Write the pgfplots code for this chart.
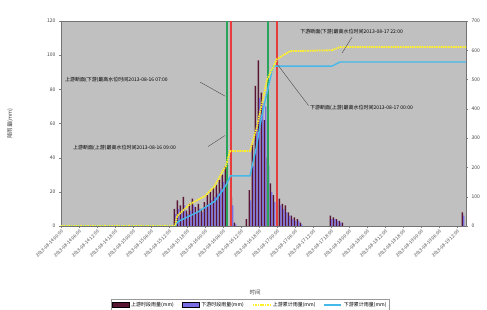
\documentclass[border=0pt]{standalone}
\usepackage{fontspec}
\setmainfont{Noto Sans CJK SC}
\usepackage{pgfplots}
\pgfplotsset{compat=1.18}
\definecolor{bgc}{RGB}{192,192,192}
\definecolor{barA}{RGB}{88,22,52}
\definecolor{barB}{RGB}{120,110,225}
\definecolor{lineY}{RGB}{255,240,40}
\definecolor{lineB}{RGB}{70,185,235}
\definecolor{vgreen}{RGB}{40,165,90}
\definecolor{vred}{RGB}{230,60,60}
\begin{document}
\begin{tikzpicture}[font=\fontsize{5}{6}\selectfont]
\useasboundingbox (-61pt,-84pt) rectangle (426pt,226pt);
\begin{axis}[
  at={(0,0)}, anchor=south west, scale only axis, width=405pt, height=205pt,
  xmin=0, xmax=135, ymin=0, ymax=120,
  ytick={0,20,...,120}, ytick pos=left,
  xtick={0,6,...,132}, xtick pos=bottom,
  xticklabels={2013-08-14 00:00,2013-08-14 06:00,2013-08-14 12:00,2013-08-14 18:00,
    2013-08-15 00:00,2013-08-15 06:00,2013-08-15 12:00,2013-08-15 18:00,
    2013-08-16 00:00,2013-08-16 06:00,2013-08-16 12:00,2013-08-16 18:00,
    2013-08-17 00:00,2013-08-17 06:00,2013-08-17 12:00,2013-08-17 18:00,
    2013-08-18 00:00,2013-08-18 06:00,2013-08-18 12:00,2013-08-18 18:00,
    2013-08-19 00:00,2013-08-19 06:00,2013-08-19 12:00},
  x tick label style={rotate=45, anchor=north east, inner sep=1pt, text=black!75,
    font=\fontsize{4.6}{5}\selectfont},
  y tick label style={text=black!75},
  tick align=outside, major tick length=2pt,
  axis background/.style={fill=bgc},
  axis line style={black!55},
  /pgf/number format/assume math mode=true,
  clip=false,
]
\addplot[ybar, bar width=1.4pt, bar shift=-0.7pt, fill=barA, draw=none] coordinates {
 (38,10) (39,15) (40,12) (41,17) (42,9) (43,13) (44,16) (45,11) (46,13) (47,10)
 (48,14) (49,18) (50,20) (51,22) (52,24) (53,27) (54,30) (55,35) (57,17) (58,2)
 (62,4) (63,21) (64,48) (65,82) (66,97) (67,78) (68,62) (69,40) (70,25) (71,18)
 (73,16) (74,13) (75,12) (76,8) (77,6) (78,5) (79,4) (80,2)
 (90,6) (91,5) (92,4) (93,3) (94,2) (134,8)};
\addplot[ybar, bar width=1.4pt, bar shift=0.7pt, fill=barB, draw=none] coordinates {
 (38,7) (39,10) (40,9) (41,12) (42,7) (43,9) (44,12) (45,8) (46,10) (47,8)
 (48,11) (49,13) (50,15) (51,17) (52,19) (53,22) (54,26) (55,30) (57,12) (58,1)
 (63,15) (64,35) (65,60) (66,75) (67,72) (68,70) (69,35) (70,20) (71,14)
 (73,12) (74,10) (75,8) (76,6) (77,4) (78,3) (79,3) (80,1)
 (90,4) (91,4) (92,3) (93,2) (134,6)};
\end{axis}
\begin{axis}[
  at={(0,0)}, anchor=south west, scale only axis, width=405pt, height=205pt,
  xmin=0, xmax=135, ymin=0, ymax=700,
  ytick={0,100,...,700}, axis y line*=right, axis x line=none,
  y tick label style={text=black!75},
  tick align=outside, major tick length=2pt,
  axis line style={black!55},
  /pgf/number format/assume math mode=true,
  legend columns=4,
  legend style={at={(rel axis cs:0.467,-0.355)}, anchor=north, draw=black!40,
    font=\fontsize{5}{6}\selectfont, inner sep=1pt,
    /tikz/every even column/.append style={column sep=6pt}},
  legend cell align=left,
]
\addlegendimage{area legend, fill=barA, draw=none}
\addlegendentry{上游时段雨量(mm)}
\addlegendimage{area legend, fill=barB, draw=none}
\addlegendentry{下游时段雨量(mm)}
\addlegendimage{lineY, line width=1.8pt, dash pattern=on 1.6pt off 0.8pt}
\addlegendentry{上游累计雨量(mm)}
\addlegendimage{lineB, line width=1.4pt}
\addlegendentry{下游累计雨量(mm)}
\addplot[vgreen, line width=1.3pt, forget plot] coordinates {(55.3,0) (55.3,700)};
\addplot[vred, line width=1.3pt, forget plot] coordinates {(56.7,0) (56.7,700)};
\addplot[vgreen, line width=1.3pt, forget plot] coordinates {(69,0) (69,700)};
\addplot[vred, line width=1.3pt, forget plot] coordinates {(72,0) (72,700)};
\addplot[lineB, line width=1.4pt, forget plot] coordinates {
 (0,0) (38,0) (39,15) (46,50) (51.3,85) (53.7,119) (55,140) (56.5,171) (63,171)
 (65,263) (67,380) (70.7,546) (90.3,546) (93,560) (135,560)};
\addplot[lineY, line width=1.8pt, dash pattern=on 1.6pt off 0.8pt, forget plot] coordinates {
 (0,0) (38,0) (38.7,34) (43,75) (48,102) (51.3,137) (53.7,184) (55,205) (56.3,256)
 (63,256) (65.3,338) (68.7,500) (72,570) (76.3,597) (90.3,600) (93,611) (135,611)};
\end{axis}
\begin{axis}[
  at={(0,0)}, anchor=south west, scale only axis, width=405pt, height=205pt,
  xmin=0, xmax=135, ymin=0, ymax=120, hide axis, clip=false,
  every node/.append style={font=\fontsize{6}{7}\selectfont, text=black!85},
]
\node[anchor=west, inner sep=0pt] at (axis cs:1.3,85.5) {上游断面(下游)最高水位时间2013-08-16 07:00};
\draw[black!70, thin] (axis cs:46.3,84.3) -- (axis cs:54.7,76);
\node[anchor=west, inner sep=0pt] at (axis cs:4,45.7) {上游断面(上游)最高水位时间2013-08-16 09:00};
\draw[black!70, thin] (axis cs:49,46.5) -- (axis cs:54.7,53);
\node[anchor=west, inner sep=0pt] at (axis cs:79.7,113.6) {下游断面(下游)最高水位时间2013-08-17 22:00};
\draw[black!70, thin] (axis cs:97,110.5) -- (axis cs:93.7,101.3);
\node[anchor=west, inner sep=0pt] at (axis cs:83,69) {下游断面(上游)最高水位时间2013-08-17 00:00};
\draw[black!70, thin] (axis cs:72.3,94.2) -- (axis cs:82.5,70.5);
\end{axis}
\node[rotate=90, font=\fontsize{5.5}{6}\selectfont, text=black!75] at (-51pt,102.5pt) {降雨量(mm)};
\node[font=\fontsize{5.5}{6}\selectfont, text=black!75] at (194pt,-66pt) {时间};
\end{tikzpicture}
\end{document}
